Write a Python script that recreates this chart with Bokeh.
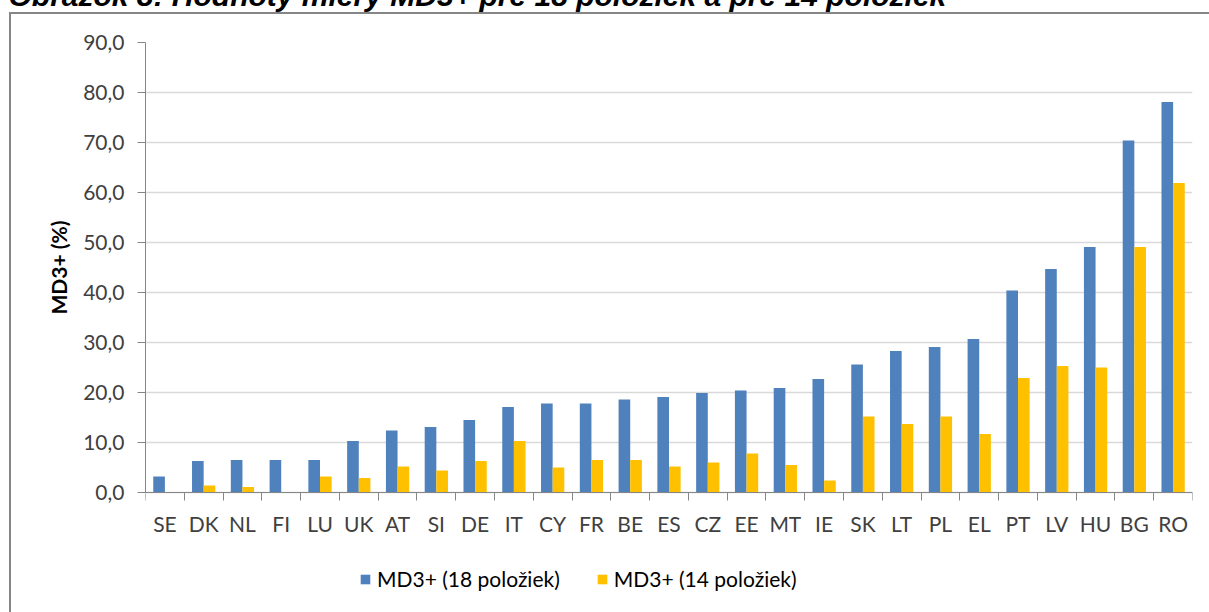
import math
from bokeh.plotting import figure
from bokeh.models import Range1d, FixedTicker, Legend, LegendItem, ColumnDataSource, Label
from bokeh.embed import file_html
from bokeh.resources import INLINE

countries = ["SE", "DK", "NL", "FI", "LU", "UK", "AT", "SI", "DE", "IT", "CY", "FR", "BE", "ES",
             "CZ", "EE", "MT", "IE", "SK", "LT", "PL", "EL", "PT", "LV", "HU", "BG", "RO"]
md3_18 = [3.2, 6.3, 6.5, 6.5, 6.5, 10.3, 12.4, 13.1, 14.5, 17.1, 17.8, 17.8, 18.6, 19.1,
          19.9, 20.4, 20.9, 22.7, 25.6, 28.3, 29.1, 30.7, 40.4, 44.7, 49.1, 70.4, 78.1]
md3_14 = [0.0, 1.4, 1.1, 0.0, 3.2, 2.9, 5.2, 4.4, 6.3, 10.3, 5.0, 6.5, 6.5, 5.2,
          6.0, 7.8, 5.5, 2.4, 15.2, 13.7, 15.2, 11.7, 22.9, 25.3, 25.0, 49.1, 61.9]
series_names = ["MD3+ (18 položiek)", "MD3+ (14 položiek)"]
y_ticks = [0, 10, 20, 30, 40, 50, 60, 70, 80, 90]
y_tick_labels = ["0,0", "10,0", "20,0", "30,0", "40,0", "50,0", "60,0", "70,0", "80,0", "90,0"]
y_title = "MD3+ (%)"
chart_title = "Obrázok 8: Hodnoty miery MD3+ pre 18 položiek a pre 14 položiek"

n = len(countries)
centers = [i + 0.5 for i in range(n)]
bounds = [float(i) for i in range(n + 1)]
bw = 0.3

src = ColumnDataSource(dict(
    xa=[c - 0.15 for c in centers],
    xb=[c + 0.15 for c in centers],
    a=md3_18, b=md3_14,
))

FONT = "Lato"
GRAY = "#868686"

# frame extends to the bottom of the canvas so the legend (inside the frame) is not clipped;
# the x axis is pinned at y = 0
p = figure(width=1209, height=612, output_backend="svg", toolbar_location=None,
           x_range=Range1d(0, n), y_range=Range1d(-24, 90),
           min_border_left=145, min_border_right=17, min_border_top=42, min_border_bottom=0)
p.outline_line_color = None
p.background_fill_color = "white"
p.border_fill_alpha = 0
p.styles = {
    "background": (
        f"linear-gradient({GRAY}, {GRAY}) 9px 12px / 2px 700px no-repeat, "
        f"linear-gradient({GRAY}, {GRAY}) 9px 12px / 1300px 2px no-repeat, white"
    )
}

r1 = p.vbar(x="xa", top="a", width=bw, bottom=0, source=src, fill_color="#4F81BD", line_color=None)
r2 = p.vbar(x="xb", top="b", width=bw, bottom=0, source=src, fill_color="#FFC000", line_color=None)

# x axis
p.xaxis.fixed_location = 0
p.xaxis.ticker = FixedTicker(ticks=centers, minor_ticks=bounds)
p.xaxis.major_label_overrides = {c: lab for c, lab in zip(centers, countries)}
p.xaxis.major_tick_out = 0
p.xaxis.major_tick_in = 0
p.xaxis.minor_tick_out = 8
p.xaxis.minor_tick_in = 0
p.xaxis.minor_tick_line_color = GRAY
p.xaxis.axis_line_color = GRAY
p.xaxis.major_label_text_font = FONT
p.xaxis.major_label_text_font_size = "21px"
p.xaxis.major_label_text_color = "#404040"
p.xaxis.major_label_standoff = 10

# y axis
p.yaxis.bounds = (0, 90)
p.yaxis.ticker = FixedTicker(ticks=y_ticks)
p.yaxis.major_label_overrides = {t: s for t, s in zip(y_ticks, y_tick_labels)}
p.yaxis.major_tick_out = 8
p.yaxis.major_tick_in = 0
p.yaxis.minor_tick_line_color = None
p.yaxis.major_tick_line_color = GRAY
p.yaxis.axis_line_color = GRAY
p.yaxis.major_label_text_font = FONT
p.yaxis.major_label_text_font_size = "21px"
p.yaxis.major_label_text_color = "#404040"
p.yaxis.major_label_standoff = 13

p.xgrid.grid_line_color = None
p.ygrid.ticker = FixedTicker(ticks=y_ticks)
p.ygrid.grid_line_color = "#D9D9D9"
p.ygrid.grid_line_width = 1.5

legend = Legend(items=[LegendItem(label=series_names[0], renderers=[r1]),
                       LegendItem(label=series_names[1], renderers=[r2])],
                orientation="horizontal", location=(214, 21),
                glyph_width=12, glyph_height=12, label_standoff=6, spacing=36,
                padding=0, margin=0, border_line_color=None, background_fill_alpha=0,
                label_text_font=FONT, label_text_font_size="21px", label_text_color="black")
p.add_layout(legend, "center")

title = Label(x=-137, y=47, x_units="screen", y_units="screen", text=chart_title,
              text_font="Liberation Sans", text_font_style="bold italic", text_font_size="30px",
              text_color="black", text_baseline="alphabetic", text_align="left")
p.add_layout(title, "above")

ytitle = Label(x=3, y=345, x_units="screen", y_units="screen", text=y_title, angle=math.pi / 2,
               text_font=FONT, text_font_style="bold", text_font_size="21px",
               text_color="black", text_baseline="middle", text_align="center")
p.add_layout(ytitle, "left")

open("out.html", "w").write(file_html(p, INLINE))
